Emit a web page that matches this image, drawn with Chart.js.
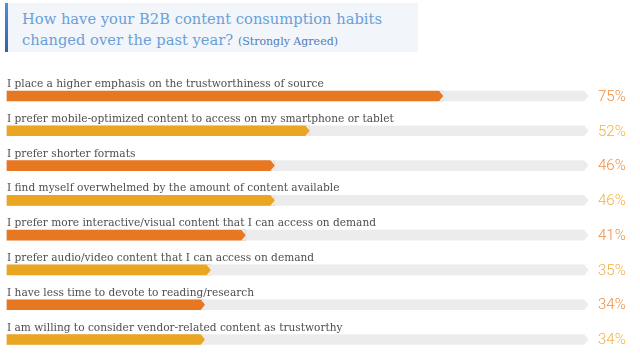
<!DOCTYPE html>
<html>
<head>
<meta charset="utf-8">
<script src="https://cdn.jsdelivr.net/npm/chart.js@4.4.1/dist/chart.umd.min.js"></script>
<style>
  html, body { margin: 0; padding: 0; background: #ffffff; }
  #wrap { position: relative; width: 640px; height: 355px; overflow: hidden; }
  #title {
    position: absolute; left: 5px; top: 3px; width: 413px; height: 49px;
    background: #f2f5f9; box-sizing: border-box;
    border-left: 3px solid #3f6fbf;
    border-image: linear-gradient(to bottom, #4a93dc, #3a5aa8) 1;
    padding: 5px 0 0 14px;
    font-family: "DejaVu Serif", serif; font-size: 14.7px; line-height: 21px;
    color: #6a9fd8; white-space: nowrap;
  }
  #title small { font-size: 11px; color: #4f7cc0; }
  canvas { position: absolute; left: 0; top: 0; }
</style>
</head>
<body>
<div id="wrap">
  <canvas id="c" width="640" height="355"></canvas>
  <div id="title">How have your B2B content consumption habits<br>changed over the past year? <small>(Strongly Agreed)</small></div>
</div>
<script>
const categories = [
  "I place a higher emphasis on the trustworthiness of source",
  "I prefer mobile-optimized content to access on my smartphone or tablet",
  "I prefer shorter formats",
  "I find myself overwhelmed by the amount of content available",
  "I prefer more interactive/visual content that I can access on demand",
  "I prefer audio/video content that I can access on demand",
  "I have less time to devote to reading/research",
  "I am willing to consider vendor-related content as trustworthy"
];
const values = [75, 52, 46, 46, 41, 35, 34, 34];
const trackValues = [100, 100, 100, 100, 100, 100, 100, 100];
const valueLabels = ["75%", "52%", "46%", "46%", "41%", "35%", "34%", "34%"];

const barColors = values.map((v, i) => i % 2 === 0 ? "#e87722" : "#eaa523");
const pctColors = values.map((v, i) => i % 2 === 0 ? "#ef8d3e" : "#f0b043");
const TRACK = "#ececec";
const TIP = 4;

const decorPlugin = {
  id: "decor",
  afterDatasetsDraw(chart) {
    const ctx = chart.ctx;
    ctx.save();
    const cut = (el, color) => {
      const h = el.height, top = el.y - h / 2, bot = el.y + h / 2, x = el.x;
      ctx.fillStyle = color;
      ctx.beginPath();
      ctx.moveTo(x - TIP, top - 0.5); ctx.lineTo(x + 0.5, top - 0.5); ctx.lineTo(x + 0.5, el.y); ctx.closePath();
      ctx.fill();
      ctx.beginPath();
      ctx.moveTo(x - TIP, bot + 0.5); ctx.lineTo(x + 0.5, bot + 0.5); ctx.lineTo(x + 0.5, el.y); ctx.closePath();
      ctx.fill();
    };
    chart.getDatasetMeta(0).data.forEach(el => cut(el, "#ffffff"));
    chart.getDatasetMeta(1).data.forEach(el => cut(el, TRACK));
    const ys = chart.scales.y;
    const xs = chart.scales.x;
    categories.forEach((c, i) => {
      const y = ys.getPixelForValue(i);
      ctx.font = "10.6px 'DejaVu Serif', serif";
      ctx.fillStyle = "#4e4e4e";
      ctx.textAlign = "left";
      ctx.textBaseline = "alphabetic";
      ctx.fillText(c, xs.left, y - 9);
      ctx.font = "300 15px Roboto, 'Open Sans', sans-serif";
      ctx.fillStyle = pctColors[i];
      ctx.textBaseline = "middle";
      ctx.fillText(valueLabels[i], xs.right + 10, y + 1);
    });
    ctx.restore();
  }
};

new Chart(document.getElementById("c"), {
  type: "bar",
  data: {
    labels: categories,
    datasets: [
      { data: trackValues, backgroundColor: TRACK, barThickness: 10, grouped: false, order: 2, clip: false },
      { data: values, backgroundColor: barColors, barThickness: 10, grouped: false, order: 1, clip: false }
    ]
  },
  options: {
    indexAxis: "y",
    responsive: false,
    animation: false,
    events: [],
    layout: { padding: { left: 7, right: 52, top: 96, bottom: 15.5 } },
    plugins: { legend: { display: false }, tooltip: { enabled: false }, title: { display: false } },
    scales: {
      x: { min: 0, max: 100, display: false },
      y: { type: "category", offset: false, display: false, grid: { offset: false } }
    }
  },
  plugins: [decorPlugin]
});
</script>
</body>
</html>
